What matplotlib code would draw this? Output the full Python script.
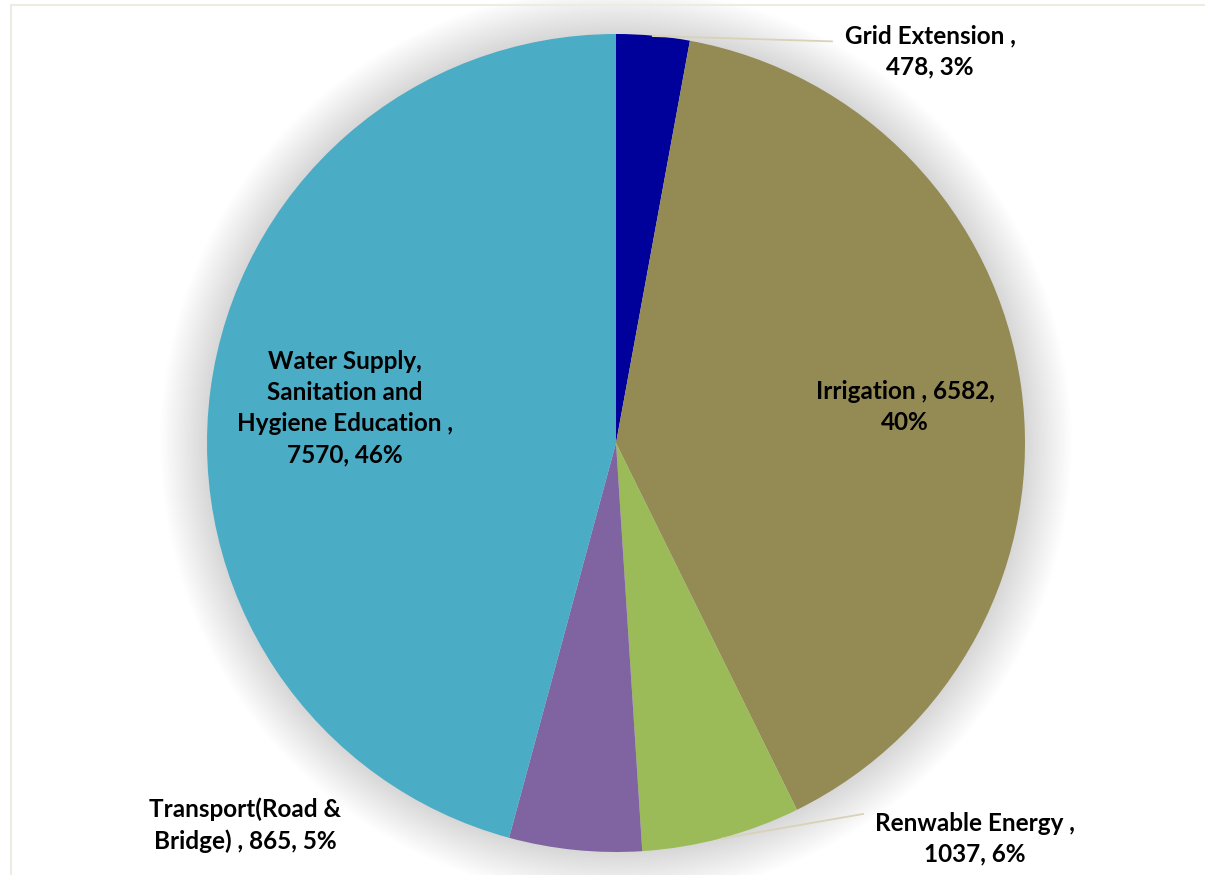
import matplotlib
matplotlib.use('Agg')
import matplotlib.pyplot as plt
from matplotlib.patches import Circle
from matplotlib.lines import Line2D

# data
categories = ['Grid Extension', 'Irrigation', 'Renwable Energy',
              'Transport(Road & Bridge)', 'Water Supply, Sanitation and Hygiene Education']
values = [478, 6582, 1037, 865, 7570]
colors = ['#00009A', '#948A54', '#9BBB59', '#8064A2', '#4BACC6']
labels = ['Grid Extension ,\n478, 3%',
          'Irrigation , 6582,\n40%',
          'Renwable Energy ,\n1037, 6%',
          'Transport(Road &\nBridge) , 865, 5%',
          'Water Supply,\nSanitation and\nHygiene Education ,\n7570, 46%']

plt.rcParams['font.family'] = ['Lato', 'DejaVu Sans']

fig = plt.figure(figsize=(12.05, 8.75), dpi=100)
ax = fig.add_axes([0, 0, 1, 1])
ppu = 409.0
cx, cy = 616, 443

# soft shadow round the pie
n = 40
for k in range(n):
    ax.add_patch(Circle((0, 0), 1.0 + 0.115 * (k + 1) / n, color='black',
                        alpha=0.0028, lw=0, zorder=0))

wedges, _ = ax.pie(values, colors=colors, startangle=90, counterclock=False,
                   radius=1.0, wedgeprops=dict(linewidth=0))
for w in wedges:
    w.set_zorder(2)

ax.set_xlim(-cx / ppu, (1205 - cx) / ppu)
ax.set_ylim(-(875 - cy) / ppu, cy / ppu)
ax.set_aspect('auto')
ax.axis('off')

# label positions (data units)
pos = [(0.768, 0.958), (0.707, 0.088), (0.878, -0.968), (-0.907, -0.935), (-0.663, 0.085)]
for lab, (x, y) in zip(labels, pos):
    ax.text(x, y, lab, ha='center', va='center', fontsize=17.5, fontweight='bold',
            linespacing=1.42, zorder=5)

# leader lines
ax.add_line(Line2D([0.09, 0.528], [0.995, 0.982], color='#D8D2B8', lw=1.3, zorder=3))
ax.add_line(Line2D([0.26, 0.604], [-0.967, -0.907], color='#D8D2B8', lw=1.3, zorder=3))

# frame
fig.add_artist(Line2D([11 / 1205, 1], [1 - 4.5 / 875, 1 - 4.5 / 875],
                      transform=fig.transFigure, color='#EEECE1', lw=1.5))
fig.add_artist(Line2D([11 / 1205, 11 / 1205], [0, 1 - 4.5 / 875],
                      transform=fig.transFigure, color='#EEECE1', lw=1.5))

fig.savefig('out.png', dpi=100)
